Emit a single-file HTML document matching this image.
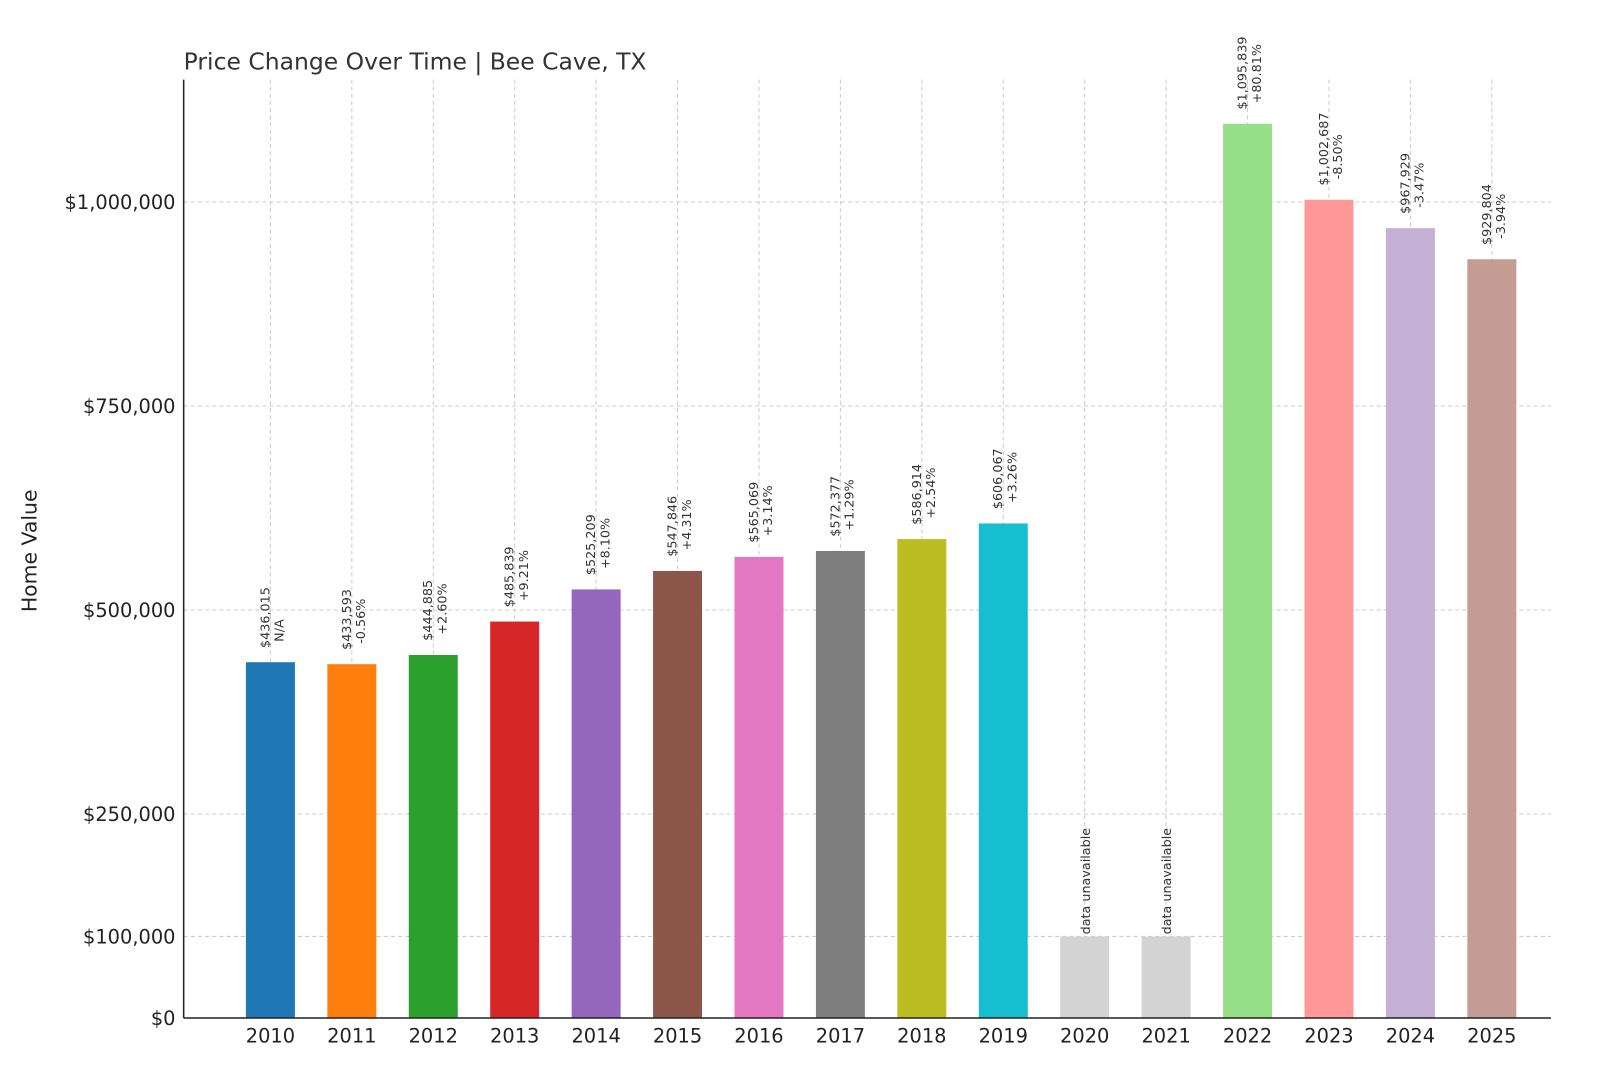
<!DOCTYPE html>
<html><head><meta charset="utf-8"><style>
body{margin:0;background:#fff;}
svg{font-family:"DejaVu Sans","Liberation Sans",sans-serif;display:block;}
</style></head><body>
<svg id="chart" width="1600" height="1067" viewBox="0 0 1568 1046" preserveAspectRatio="none">
<text x="180" y="68" font-size="23" fill="#333">Price Change Over Time | Bee Cave, TX</text>
<text transform="translate(36,540) rotate(-90)" text-anchor="middle" font-size="20" fill="#222">Home Value</text>
<g id="grid"></g><g id="bars"></g><g id="labels"></g><g id="axes"></g>
</svg>
<script>
const years=["2010","2011","2012","2013","2014","2015","2016","2017","2018","2019","2020","2021","2022","2023","2024","2025"];
const values=[436015,433593,444885,485839,525209,547846,565069,572377,586914,606067,100000,100000,1095839,1002687,967929,929804];
const changes=["N/A","-0.56%","+2.60%","+9.21%","+8.10%","+4.31%","+3.14%","+1.29%","+2.54%","+3.26%",null,null,"+80.81%","-8.50%","-3.47%","-3.94%"];
const available=[true,true,true,true,true,true,true,true,true,true,false,false,true,true,true,true];
const colors=["#1f77b4","#ff7f0e","#2ca02c","#d62728","#9467bd","#8c564b","#e377c2","#7f7f7f","#bcbd22","#17becf","#d3d3d3","#d3d3d3","#98df8a","#ff9896","#c5b0d5","#c49c94"];
const yTicks=[0,100000,250000,500000,750000,1000000];
const yTickLabels=["$0","$100,000","$250,000","$500,000","$750,000","$1,000,000"];
const NS="http://www.w3.org/2000/svg";
const L=180,R=1520,B=998,T=78;
const y=v=>B-v*0.0008;
const x=i=>265+i*79.8;
const bw=48;
function mk(tag,attrs,parent){const e=document.createElementNS(NS,tag);for(const k in attrs)e.setAttribute(k,attrs[k]);document.getElementById(parent).appendChild(e);return e;}
yTicks.forEach((t,i)=>{
  const g=mk('line',{x1:L,x2:R,y1:y(t),y2:y(t),stroke:'#ccc','stroke-dasharray':'4,3','stroke-width':1},'grid');
  
  
  const tx=mk('text',{x:L-8,y:y(t)+7,'text-anchor':'end','font-size':19,fill:'#222'},'axes');
  tx.textContent=yTickLabels[i];
  
  
});
years.forEach((yr,i)=>{
  const cx=x(i);
  const b=mk('rect',{x:cx-bw/2,y:y(values[i]),width:bw,height:B-y(values[i]),fill:colors[i]},'bars');
  
  
  const g=mk('line',{x1:cx,x2:cx,y1:T,y2:B,stroke:'#ccc','stroke-dasharray':'4,3','stroke-width':1},'grid');
  
  
  const tl=mk('text',{x:cx,y:B+24,'text-anchor':'middle','font-size':19,fill:'#222'},'axes');
  tl.textContent=yr;
  
  
  const top=y(values[i])-14;
  if(available[i]){
    const t1=mk('text',{transform:`translate(${cx-1},${top}) rotate(-90)`,'font-size':12.5,fill:'#333'},'labels');
    t1.textContent='$'+values[i].toLocaleString('en-US');
    
    
    const t2=mk('text',{transform:`translate(${cx+13},${top-6}) rotate(-90)`,'font-size':12.5,fill:'#333'},'labels');
    t2.textContent=changes[i];
    
    
  }else{
    const t1=mk('text',{transform:`translate(${cx+5},${top+12}) rotate(-90)`,'font-size':12.5,fill:'#333'},'labels');
    t1.textContent='data unavailable';
    
    
  }
});
const a1=mk('line',{x1:L,x2:L,y1:T,y2:B,stroke:'#222','stroke-width':1.5},'axes');


const a2=mk('line',{x1:L,x2:R,y1:B,y2:B,stroke:'#222','stroke-width':1.5},'axes');


</script>
</body></html>
